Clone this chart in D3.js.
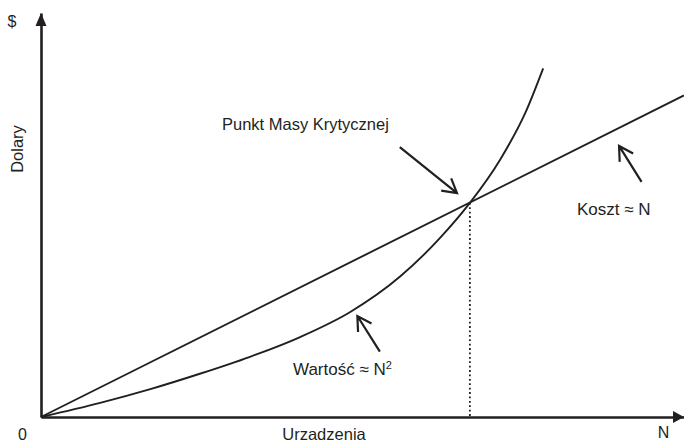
<!DOCTYPE html>
<html><head><meta charset="utf-8">
<script src="https://cdn.jsdelivr.net/npm/d3@7"></script>
<style>
html,body{margin:0;padding:0;background:#fff;}
svg{display:block;}
text{font-family:"Liberation Sans",Arial,Helvetica,sans-serif;fill:#231f20;}
</style></head>
<body>
<svg id="chart" width="684" height="443"></svg>
<script>
// ---- data (abstract units: N on x, dollars on y) ----
const xDomain = [0, 100];
const yDomain = [0, 100];
const costX = [0, 100];
const costY = [0, 79.6];
const valueX = [0, 9.2, 17, 24.7, 32.5, 40.3, 48.1, 55.8, 62.1, 66.7, 71.4, 75.3, 78.1];
const valueY = [0, 3.5, 6.9, 10.7, 14.9, 19.8, 26.0, 34.7, 44.4, 53.0, 63.7, 75.2, 86.3];
const criticalX = [66.7];
const criticalY = [53.0];
const axisLabels = ["$", "Dolary", "0", "Urzadzenia", "N"];
const noteTexts = ["Punkt Masy Krytycznej", "Koszt \u2248 N", "Warto\u015B\u0107 \u2248 N"];
// annotation arrows: [fromX, fromY, toX, toY] in data units
const noteArrows = [
  [55.8, 66.8, 64.7, 55.4],
  [93.4, 58.2, 89.9, 67.1],
  [52.7, 16.2, 49.2, 25.0]
];

const ink = "#231f20";
const svg = d3.select("#chart");
const x = d3.scaleLinear().domain(xDomain).range([41, 684]);
const y = d3.scaleLinear().domain(yDomain).range([417, 13]);

// axes (no ticks)
const gx = svg.append("g").attr("transform", `translate(0,${y(0)})`)
  .call(d3.axisBottom(x).tickValues([]).tickSizeOuter(0));
gx.select(".domain").attr("stroke", ink).attr("stroke-width", 2.6);
const gy = svg.append("g").attr("transform", `translate(${x(0)},0)`)
  .call(d3.axisLeft(y).tickValues([]).tickSizeOuter(0));
gy.select(".domain").attr("stroke", ink).attr("stroke-width", 2.6);

// axis arrowheads
svg.append("path")
  .attr("d", `M${x(0)},${y(100)} L${x(0)-5.5},${y(100)+13} L${x(0)+5.5},${y(100)+13}Z`)
  .attr("fill", ink);
svg.append("path")
  .attr("d", `M${x(100)},${y(0)} L${x(100)-11},${y(0)-6} L${x(100)-11},${y(0)+6}Z`)
  .attr("fill", ink);

// dotted critical line
svg.append("line")
  .attr("x1", x(criticalX[0])).attr("x2", x(criticalX[0]))
  .attr("y1", y(criticalY[0])).attr("y2", y(0))
  .attr("stroke", ink).attr("stroke-width", 1.8).attr("stroke-dasharray", "1.8,2.6");

// cost line
const line = d3.line().x(d => x(d[0])).y(d => y(d[1]));
svg.append("path")
  .datum(costX.map((v, i) => [v, costY[i]]))
  .attr("d", line).attr("fill", "none").attr("stroke", ink).attr("stroke-width", 1.9);

// value curve
svg.append("path")
  .datum(valueX.map((v, i) => [v, valueY[i]]))
  .attr("d", line.curve(d3.curveMonotoneX)).attr("fill", "none")
  .attr("stroke", ink).attr("stroke-width", 1.9);

// annotation arrows (open heads)
noteArrows.forEach(a => {
  const x1 = x(a[0]), y1 = y(a[1]), x2 = x(a[2]), y2 = y(a[3]);
  const ang = Math.atan2(y1 - y2, x1 - x2);
  const L = 16, s = 0.52;
  const p = `M${x1},${y1} L${x2},${y2} M${x2 + L*Math.cos(ang+s)},${y2 + L*Math.sin(ang+s)} L${x2},${y2} L${x2 + L*Math.cos(ang-s)},${y2 + L*Math.sin(ang-s)}`;
  svg.append("path").attr("d", p).attr("fill", "none").attr("stroke", ink)
    .attr("stroke-width", 2.2).attr("stroke-linejoin", "miter");
});

// texts
svg.append("text").attr("x", 12).attr("y", 27).attr("text-anchor", "middle")
  .style("font-size", "16px").text(axisLabels[0]);
svg.append("text").attr("transform", "translate(23,149) rotate(-90)").attr("text-anchor", "middle")
  .style("font-size", "16.5px").text(axisLabels[1]);
svg.append("text").attr("x", 22.5).attr("y", 440).attr("text-anchor", "middle")
  .style("font-size", "16px").text(axisLabels[2]);
svg.append("text").attr("x", 324).attr("y", 440).attr("text-anchor", "middle")
  .style("font-size", "16.5px").text(axisLabels[3]);
svg.append("text").attr("x", 663.5).attr("y", 438).attr("text-anchor", "middle")
  .style("font-size", "16px").text(axisLabels[4]);

svg.append("text").attr("x", 222).attr("y", 130)
  .style("font-size", "16.5px").text(noteTexts[0]);
svg.append("text").attr("x", 577).attr("y", 215)
  .style("font-size", "17px").text(noteTexts[1]);
const wt = svg.append("text").attr("x", 293).attr("y", 375).style("font-size", "17px");
wt.append("tspan").text(noteTexts[2]);
wt.append("tspan").attr("dy", -6).style("font-size", "11px").text("2");
</script>
</body></html>
